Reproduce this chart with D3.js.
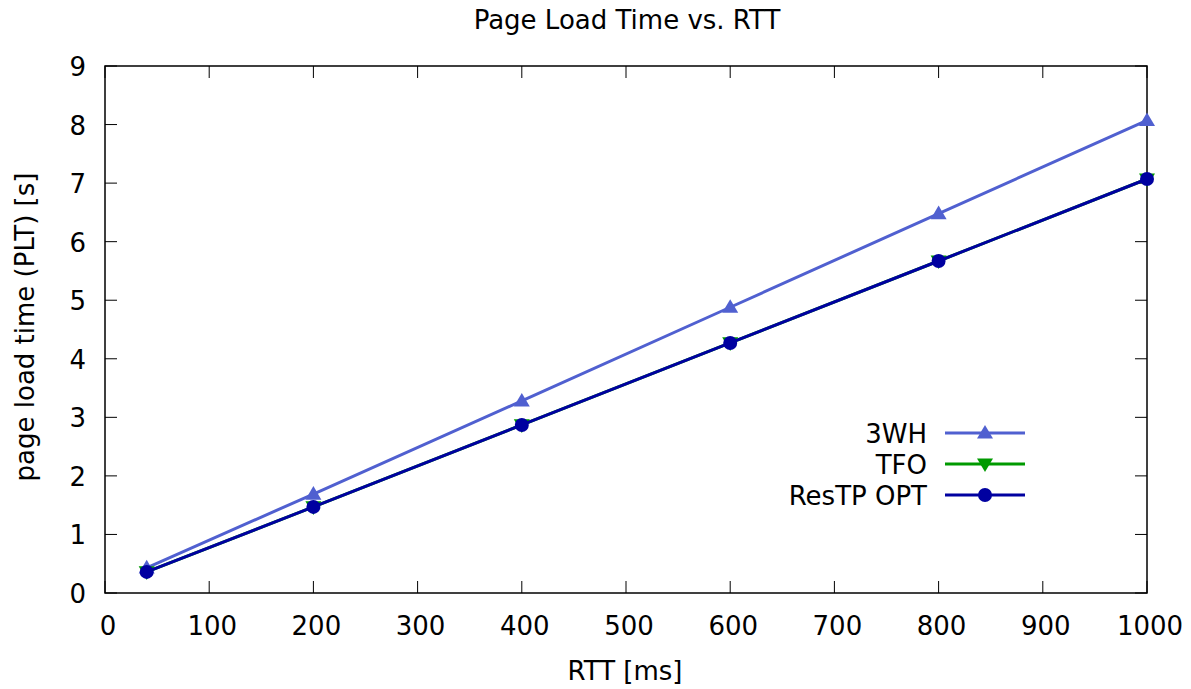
<!DOCTYPE html>
<html>
<head>
<meta charset="utf-8">
<script src="https://cdn.jsdelivr.net/npm/d3@7"></script>
<style>
  body { margin: 0; background: #fff; }
  text { font-family: "DejaVu Sans", sans-serif; fill: #000; font-size: 26px; }
</style>
</head>
<body>
<div id="chart"></div>
<script>
// data
const rtt = [40, 200, 400, 600, 800, 1000];
const plt3WH = [0.43, 1.69, 3.28, 4.88, 6.48, 8.07];
const pltTFO = [0.36, 1.47, 2.87, 4.27, 5.67, 7.07];
const pltResTP = [0.36, 1.47, 2.87, 4.27, 5.67, 7.07];
const xTicks = [0, 100, 200, 300, 400, 500, 600, 700, 800, 900, 1000];
const yTicks = [0, 1, 2, 3, 4, 5, 6, 7, 8, 9];

const series = [
  { name: '3WH', values: plt3WH, color: '#5060d0', marker: 'up' },
  { name: 'TFO', values: pltTFO, color: '#009a00', marker: 'down' },
  { name: 'ResTP OPT', values: pltResTP, color: '#0000a0', marker: 'circle' }
];

const W = 1191, H = 689;
const margin = { left: 105, right: 44, top: 66, bottom: 96 };

const svg = d3.select('#chart').append('svg')
  .attr('width', W)
  .attr('height', H);

const x = d3.scaleLinear().domain([0, 1000]).range([margin.left, W - margin.right]);
const y = d3.scaleLinear().domain([0, 9]).range([H - margin.bottom, margin.top]);

// ticks (inner, both sides like gnuplot)
const tickLen = 12;
const axisG = svg.append('g');
xTicks.forEach(t => {
  axisG.append('line').attr('x1', x(t)).attr('x2', x(t))
    .attr('y1', y(0)).attr('y2', y(0) - tickLen).attr('stroke', '#000').attr('stroke-width', 1);
  axisG.append('line').attr('x1', x(t)).attr('x2', x(t))
    .attr('y1', y(9)).attr('y2', y(9) + tickLen).attr('stroke', '#000').attr('stroke-width', 1);
  axisG.append('text').attr('x', x(t) + 3).attr('y', 635)
    .attr('text-anchor', 'middle').text(t);
});
yTicks.forEach(t => {
  axisG.append('line').attr('x1', x(0)).attr('x2', x(0) + tickLen)
    .attr('y1', y(t)).attr('y2', y(t)).attr('stroke', '#000').attr('stroke-width', 1);
  axisG.append('line').attr('x1', x(1000)).attr('x2', x(1000) - tickLen)
    .attr('y1', y(t)).attr('y2', y(t)).attr('stroke', '#000').attr('stroke-width', 1);
  axisG.append('text').attr('x', x(0) - 19).attr('y', y(t) + 10)
    .attr('text-anchor', 'end').text(t);
});

// frame
svg.append('rect')
  .attr('x', x(0)).attr('y', y(9))
  .attr('width', x(1000) - x(0)).attr('height', y(0) - y(9))
  .attr('fill', 'none').attr('stroke', '#000').attr('stroke-width', 1.5);

// titles
svg.append('text').attr('x', 627).attr('y', 29).attr('text-anchor', 'middle')
  .text('Page Load Time vs. RTT');
svg.append('text').attr('x', 625).attr('y', 680).attr('text-anchor', 'middle')
  .text('RTT [ms]');
svg.append('text').attr('transform', 'translate(34,327) rotate(-90)').attr('text-anchor', 'middle')
  .text('page load time (PLT) [s]');

const line = d3.line().x(d => x(d[0])).y(d => y(d[1]));

function drawMarker(g, type, cx, cy, color) {
  if (type === 'circle') {
    g.append('circle').attr('cx', cx).attr('cy', cy).attr('r', 7).attr('fill', color);
  } else {
    const s = 8;
    const pts = type === 'up'
      ? [[cx, cy - s], [cx - s, cy + s * 0.7], [cx + s, cy + s * 0.7]]
      : [[cx, cy + s], [cx - s, cy - s * 0.7], [cx + s, cy - s * 0.7]];
    g.append('path').attr('d', d3.line()(pts) + 'Z').attr('fill', color);
  }
}

const plotG = svg.append('g');
series.forEach(s => {
  const pts = rtt.map((r, i) => [r, s.values[i]]);
  plotG.append('path').datum(pts)
    .attr('d', line).attr('fill', 'none')
    .attr('stroke', s.color).attr('stroke-width', 3);
  pts.forEach(p => drawMarker(plotG, s.marker, x(p[0]), y(p[1]), s.color));
});

// legend
const legendY = [433, 464, 495];
const leg = svg.append('g');
series.forEach((s, i) => {
  leg.append('text').attr('x', 927).attr('y', legendY[i] + 10)
    .attr('text-anchor', 'end').text(s.name);
  leg.append('line').attr('x1', 945).attr('x2', 1025)
    .attr('y1', legendY[i]).attr('y2', legendY[i])
    .attr('stroke', s.color).attr('stroke-width', 3);
  drawMarker(leg, s.marker, 985, legendY[i], s.color);
});
</script>
</body>
</html>
